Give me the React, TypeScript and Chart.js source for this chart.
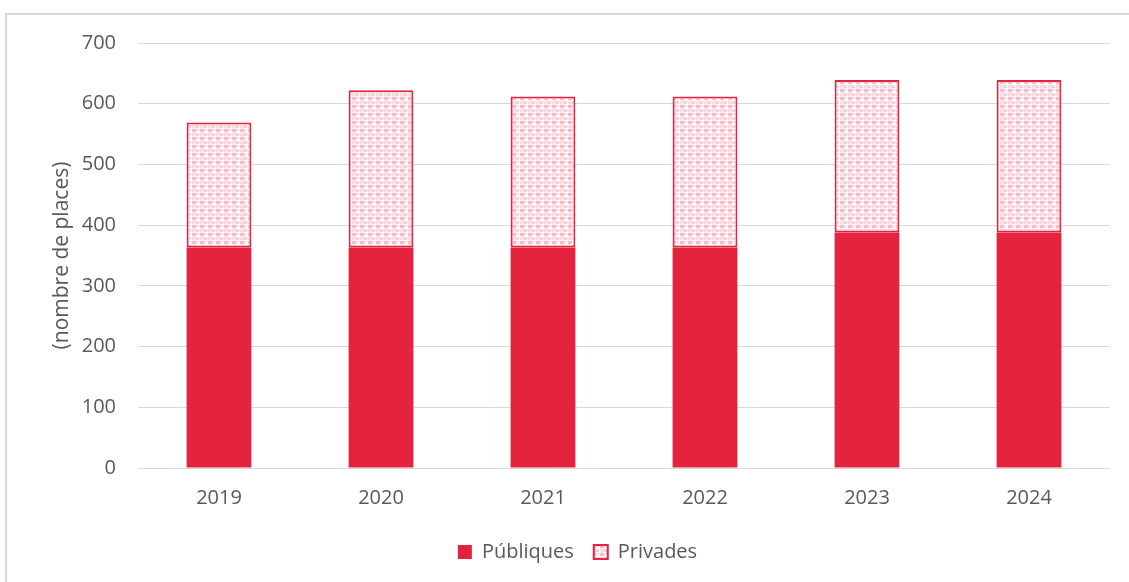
import React, { useEffect, useRef } from "react";
import { Chart, registerables } from "chart.js";

Chart.register(...registerables);

const categories = ["2019", "2020", "2021", "2022", "2023", "2024"];
const publiques = [363, 363, 363, 363, 388, 388];
const privades = [206, 259, 249, 249, 251, 251];
const yTicks = [0, 100, 200, 300, 400, 500, 600, 700];

const RED = "#E4233F";
const TEXT = "#595959";
const FONT = "'Open Sans', sans-serif";

function makePattern(): CanvasPattern | string {
  const c = document.createElement("canvas");
  c.width = 8;
  c.height = 8;
  const g = c.getContext("2d");
  if (!g) return "#fbe0e5";
  g.fillStyle = "#ffffff";
  g.fillRect(0, 0, 8, 8);
  g.fillStyle = "#fdecef";
  g.fillRect(0, 0, 4, 8);
  g.fillStyle = "#f6bcc7";
  g.fillRect(0, 1, 4, 3);
  g.fillStyle = "#f9d0d8";
  g.fillRect(4, 5, 3, 3);
  g.fillStyle = "#fadde2";
  g.fillRect(4, 1, 3, 2);
  g.fillRect(0, 5, 4, 3);
  const p = g.createPattern(c, "repeat");
  return p || "#fbe0e5";
}

export default function App() {
  const ref = useRef<HTMLCanvasElement | null>(null);

  useEffect(() => {
    if (!ref.current) return;
    const pattern = makePattern();
    const chart = new Chart(ref.current, {
      type: "bar",
      data: {
        labels: categories,
        datasets: [
          {
            label: "Públiques",
            data: publiques,
            backgroundColor: RED,
            borderWidth: 0,
            barPercentage: 0.4,
            categoryPercentage: 1,
          },
          {
            label: "Privades",
            data: privades,
            backgroundColor: pattern as any,
            borderColor: RED,
            borderWidth: 2,
            borderSkipped: false,
            barPercentage: 0.4,
            categoryPercentage: 1,
          },
        ],
      },
      options: {
        responsive: false,
        animation: false,
        layout: { padding: { left: 45, right: 19, top: 43, bottom: 10 } },
        plugins: {
          tooltip: { enabled: false },
          legend: {
            position: "bottom",
            labels: {
              boxWidth: 14,
              boxHeight: 14,
              padding: 20,
              color: TEXT,
              font: { family: FONT, size: 20 },
            },
          },
        },
        scales: {
          x: {
            stacked: true,
            grid: { display: false, drawTicks: false },
            border: { display: false },
            ticks: { color: TEXT, font: { family: FONT, size: 20 }, padding: 18 },
            afterFit: (s: any) => {
              s.height = 54;
            },
          },
          y: {
            stacked: true,
            min: 0,
            max: 700,
            afterBuildTicks: (s: any) => {
              s.ticks = yTicks.map((v) => ({ value: v }));
            },
            grid: { color: "#d9d9d9", lineWidth: 1, drawTicks: false },
            border: { display: false },
            ticks: { color: TEXT, font: { family: FONT, size: 20 }, padding: 22 },
            title: {
              display: true,
              text: "(nombre de places)",
              color: TEXT,
              font: { family: FONT, size: 21 },
              padding: { top: 4, bottom: 0 },
            },
            afterFit: (s: any) => {
              s.width = 93;
            },
          },
        },
      },
    });
    return () => chart.destroy();
  }, []);

  return (
    <div
      style={{
        position: "fixed",
        left: 0,
        top: 0,
        width: 1129,
        height: 582,
        background: "#ffffff",
        overflow: "hidden",
      }}
    >
      <div
        style={{
          position: "absolute",
          left: 5,
          top: 13,
          width: 1300,
          height: 800,
          borderLeft: "2px solid #d9d9d9",
          borderTop: "2px solid #d9d9d9",
        }}
      />
      <canvas
        ref={ref}
        width={1129}
        height={582}
        style={{ position: "absolute", left: 0, top: 0 }}
      />
    </div>
  );
}
